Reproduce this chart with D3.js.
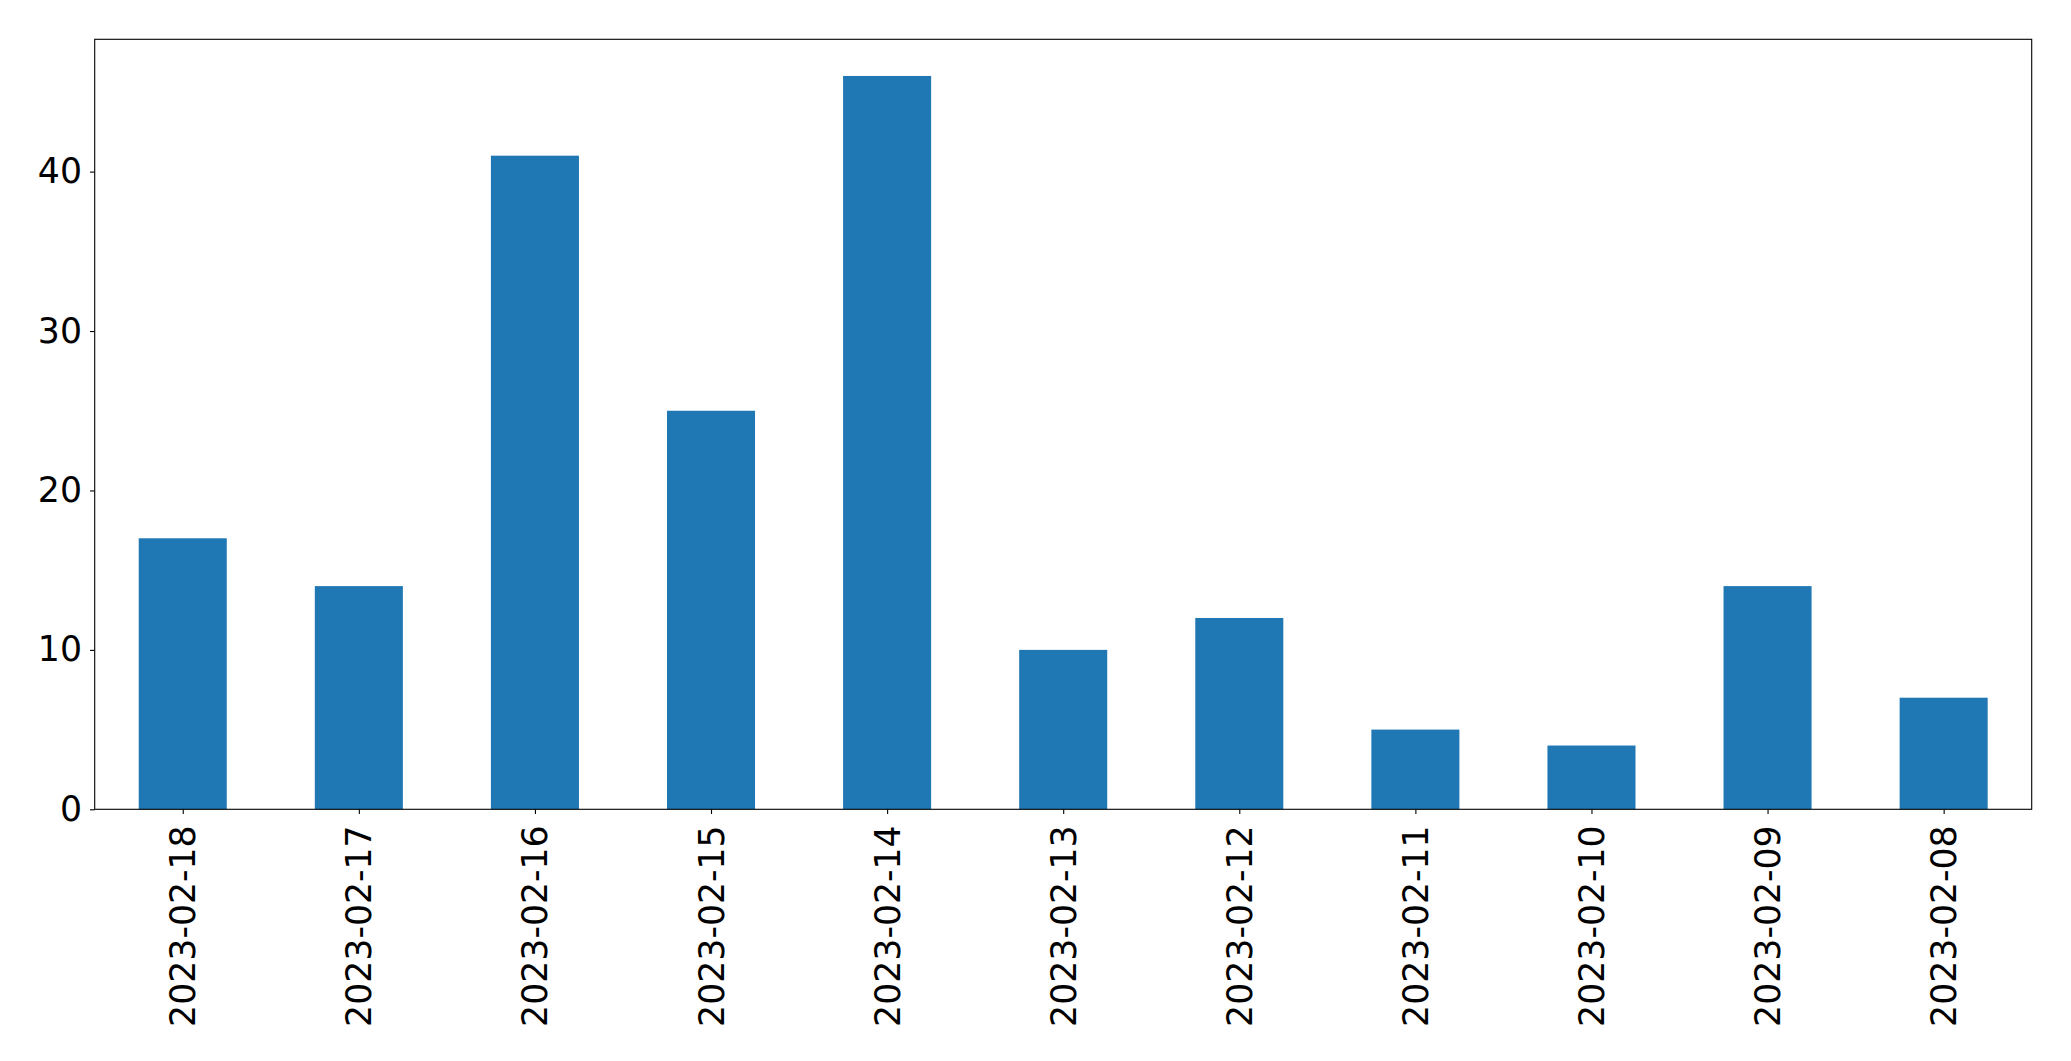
<!DOCTYPE html>
<html>
<head>
<meta charset="utf-8">
<script src="https://cdn.jsdelivr.net/npm/d3@7"></script>
<style>
  html, body { margin: 0; padding: 0; background: #fff; }
  svg { display: block; }
  text { font-family: "DejaVu Sans", sans-serif; fill: #000; }
</style>
</head>
<body>
<svg id="chart" width="2071" height="1061"></svg>
<script>
const categories = ["2023-02-18","2023-02-17","2023-02-16","2023-02-15","2023-02-14","2023-02-13","2023-02-12","2023-02-11","2023-02-10","2023-02-09","2023-02-08"];
const values = [17, 14, 41, 25, 46, 10, 12, 5, 4, 14, 7];
const yTicks = [0, 10, 20, 30, 40];

const W = 2071, H = 1061;
const m = { left: 94.7, right: 2031.7, top: 39.3, bottom: 809.3 };
const fontSize = 34.7;

const svg = d3.select("#chart");

const n = categories.length;
const x = d3.scaleLinear().domain([-0.5, n - 0.5]).range([m.left, m.right]);
const yMax = d3.max(values) * 1.05;
const y = d3.scaleLinear().domain([0, yMax]).range([m.bottom, m.top]);

const barW = 0.5;
svg.append("g").selectAll("rect")
  .data(values)
  .join("rect")
  .attr("x", (d, i) => x(i - barW / 2))
  .attr("width", (d, i) => x(i + barW / 2) - x(i - barW / 2))
  .attr("y", d => y(d))
  .attr("height", d => y(0) - y(d))
  .attr("fill", "#1f77b4");

// y axis
const yAxis = d3.axisLeft(y).tickValues(yTicks).tickSize(4.7).tickPadding(8).tickFormat(d3.format("d"));
const gy = svg.append("g").attr("transform", `translate(${m.left},0)`).call(yAxis);
gy.select(".domain").remove();
gy.selectAll("line").attr("stroke", "#000").attr("stroke-width", 1.1);
gy.selectAll("text").style("font-size", fontSize + "px").style("font-family", '"DejaVu Sans", sans-serif').attr("fill", "#000");

// x axis
const xAxis = d3.axisBottom(x).tickValues(d3.range(n)).tickSize(4.7).tickPadding(0).tickFormat(i => categories[i]);
const gx = svg.append("g").attr("transform", `translate(0,${m.bottom})`).call(xAxis);
gx.select(".domain").remove();
gx.selectAll("line").attr("stroke", "#000").attr("stroke-width", 1.1);
gx.selectAll("text")
  .style("font-size", fontSize + "px")
  .style("font-family", '"DejaVu Sans", sans-serif')
  .attr("fill", "#000")
  .attr("dy", null)
  .attr("y", null)
  .attr("text-anchor", "end")
  .attr("dominant-baseline", "central")
  .attr("transform", "translate(0,16) rotate(-90)");

// frame
svg.append("rect")
  .attr("x", m.left).attr("y", m.top)
  .attr("width", m.right - m.left).attr("height", m.bottom - m.top)
  .attr("fill", "none").attr("stroke", "#000").attr("stroke-width", 1.1);
</script>
</body>
</html>
